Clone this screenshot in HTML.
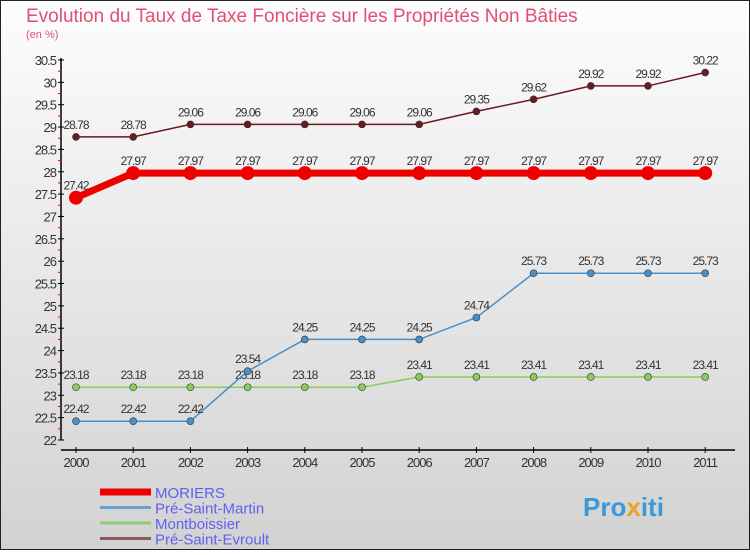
<!DOCTYPE html>
<html><head><meta charset="utf-8"><style>
body{margin:0;width:750px;height:550px;overflow:hidden;font-family:"Liberation Sans",sans-serif}
</style></head><body>
<svg width="750" height="550" viewBox="0 0 750 550">
<defs><linearGradient id="bg" x1="0" y1="0" x2="0" y2="1"><stop offset="0" stop-color="#fdfdfd"/><stop offset="1" stop-color="#d2d2d2"/></linearGradient></defs>
<rect x="0.5" y="0.5" width="749" height="549" fill="url(#bg)" stroke="#222"/>
<text x="26" y="22" font-size="19" fill="#e05070">Evolution du Taux de Taxe Foncière sur les Propriétés Non Bâties</text>
<text x="26" y="38" font-size="11" fill="#e05070">(en %)</text>
<g id="axes"></g>
<g id="series"></g>
<g id="legend"></g>
<text x="583" y="516" font-size="26" font-weight="bold" fill="#3a9ad9">Pro<tspan fill="#f0a020">x</tspan>iti</text>
</svg>
<script>
const years=["2000","2001","2002","2003","2004","2005","2006","2007","2008","2009","2010","2011"];
const yTicks=[22,22.5,23,23.5,24,24.5,25,25.5,26,26.5,27,27.5,28,28.5,29,29.5,30,30.5];
const moriers=[27.42,27.97,27.97,27.97,27.97,27.97,27.97,27.97,27.97,27.97,27.97,27.97];
const preSaintMartin=[22.42,22.42,22.42,23.54,24.25,24.25,24.25,24.74,25.73,25.73,25.73,25.73];
const montboissier=[23.18,23.18,23.18,23.18,23.18,23.18,23.41,23.41,23.41,23.41,23.41,23.41];
const preSaintEvroult=[28.78,28.78,29.06,29.06,29.06,29.06,29.06,29.35,29.62,29.92,29.92,30.22];
const seriesNames=["MORIERS","Pré-Saint-Martin","Montboissier","Pré-Saint-Evroult"];
const NS="http://www.w3.org/2000/svg";
const x=i=>76+i*57.2;
const y=v=>440-(v-22)*(380/8.5);
function mk(tag,attrs,parent,txt){const e=document.createElementNS(NS,tag);for(const k in attrs)e.setAttribute(k,attrs[k]);if(txt!==undefined)e.textContent=txt;parent.appendChild(e);return e;}
const ax=document.getElementById('axes');
let e=mk('line',{x1:61,y1:58,x2:61,y2:440,stroke:'#000','stroke-width':1.5},ax);


e=mk('line',{x1:61,y1:450,x2:735,y2:450,stroke:'#000','stroke-width':1.5},ax);


const yMax=yTicks[yTicks.length-1];
yTicks.forEach(v=>{
  mk('line',{x1:58,y1:y(v),x2:64,y2:y(v),stroke:'#000'},ax);
  if(v<yMax) mk('line',{x1:58,y1:y(v+0.25),x2:61,y2:y(v+0.25),stroke:'#e00'},ax);
  const t=mk('text',{x:56,y:y(v)+5,'text-anchor':'end','font-size':13,fill:'#333','letter-spacing':'-1'},ax,String(v));
  
  
});
years.forEach((yr,i)=>{
  mk('line',{x1:x(i),y1:447,x2:x(i),y2:453,stroke:'#000'},ax);
  const t=mk('text',{x:x(i),y:467,'text-anchor':'middle','font-size':13,fill:'#333','letter-spacing':'-1'},ax,yr);
  
  
});
const sg=document.getElementById('series');
function drawSeries(vals,color,w,r,name){
  const g=mk('g',{},sg);
  
  
  const p=mk('polyline',{points:vals.map((v,i)=>x(i)+','+y(v)).join(' '),fill:'none',stroke:color,'stroke-width':w},g);
  
  
  vals.forEach((v,i)=>{
    const c=mk('circle',{cx:x(i),cy:y(v),r:r,fill:color,stroke:'#333','stroke-width':r>5?0:0.6},g);
    
    
    const t=mk('text',{x:x(i),y:y(v)-8,'text-anchor':'middle','font-size':12,fill:'#333','letter-spacing':'-1'},g,v.toFixed(2));
    
    
  });
}
drawSeries(montboissier,'#8ccc5a',1.5,3.5,'montboissier');
drawSeries(preSaintMartin,'#4a90c8',1.5,3.5,'pre-saint-martin');
drawSeries(preSaintEvroult,'#6a1a20',1.5,3.5,'pre-saint-evroult');
drawSeries(moriers,'#ee0000',7,7,'moriers');
const lg=document.getElementById('legend');
const lcol=['#ee0000','#6aa0cc','#90cc78','#8a5a5a'];
const lw=[7,3,3,3];
seriesNames.forEach((n,i)=>{
  const yy=492+i*15.5;
  const l=mk('line',{x1:100,y1:yy,x2:151,y2:yy,stroke:lcol[i],'stroke-width':lw[i]},lg);
  
  
  const t=mk('text',{x:155,y:yy+6,'font-size':15,fill:'#6060f0'},lg,n);
  
  
});
</script>
</body></html>
